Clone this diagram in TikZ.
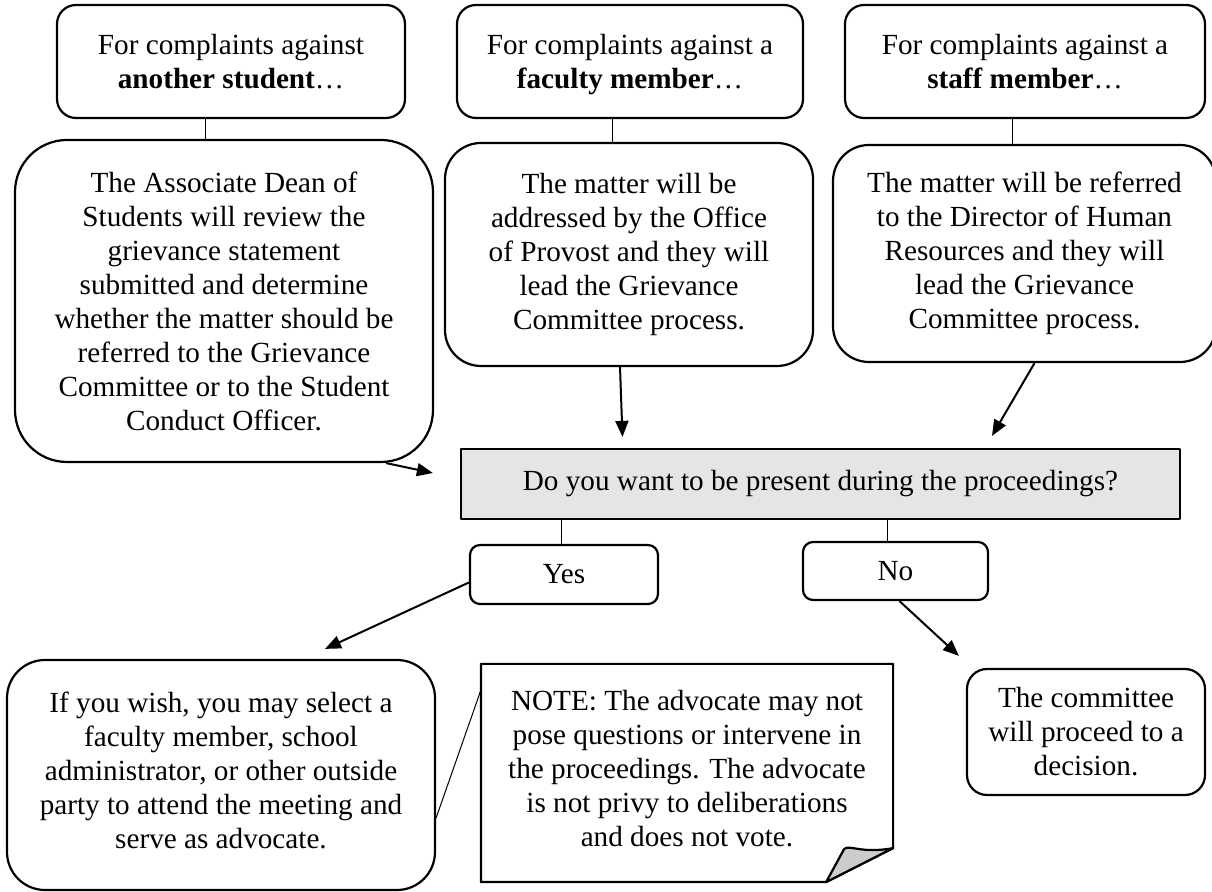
\documentclass[tikz,border=0pt]{standalone}
\usepackage{fontspec}
\setmainfont{Liberation Serif}
\usetikzlibrary{arrows.meta}
\tikzset{
  box/.style={draw, line width=1.1pt, align=center, inner sep=0pt, font=\fontsize{14.6pt}{17pt}\selectfont,
    execute at begin node={\vphantom{A}}},
  link/.style={line width=0.5pt},
  arr/.style={line width=1pt, -{Triangle[length=8pt,width=6.5pt]}}
}
\begin{document}
\begin{tikzpicture}[x=0.5pt, y=-0.5pt, line join=round]
\useasboundingbox (0,0) rectangle (1212,892);
\node[box, rounded corners=9.5pt, minimum width=174pt, minimum height=56.5pt, text depth=0pt] (A1) at (231,61.5) {For complaints against\\\textbf{another student}…};
\node[box, rounded corners=9.5pt, minimum width=173pt, minimum height=56.5pt, text depth=0pt] (F1) at (630,61.5) {For complaints against a\\\textbf{faculty member}…};
\node[box, rounded corners=9.5pt, minimum width=180pt, minimum height=56.5pt, text depth=0pt] (S1) at (1025,61.5) {For complaints against a\\\textbf{staff member}…};
\node[box, rounded corners=26pt, minimum width=209pt, minimum height=161pt] (A2) at (224,301) {The Associate Dean of\\Students will review the\\grievance statement\\submitted and determine\\whether the matter should be\\referred to the Grievance\\Committee or to the Student\\Conduct Officer.};
\node[box, rounded corners=18pt, minimum width=184pt, minimum height=111.5pt] (F2) at (629,254.5) {The matter will be\\addressed by the Office\\of Provost and they will\\lead the Grievance\\Committee process.};
\node[box, rounded corners=18pt, minimum width=191.5pt, minimum height=108.5pt] (S2) at (1024.5,253.5) {The matter will be referred\\to the Director of Human\\Resources and they will\\lead the Grievance\\Committee process.};
\node[box, fill=black!10, minimum width=359.5pt, minimum height=35pt] (Q) at (820.5,484) {Do you want to be present during the proceedings?};
\node[box, rounded corners=5pt, minimum width=94pt, minimum height=29.5pt] (Yes) at (564,574.5) {Yes};
\node[box, rounded corners=5pt, minimum width=92.5pt, minimum height=29pt] (No) at (895.5,571) {No};
\node[box, rounded corners=19pt, minimum width=214pt, minimum height=115pt, text depth=5pt] (Adv) at (221,775) {If you wish, you may select a\\faculty member, school\\administrator, or other outside\\party to attend the meeting and\\serve as advocate.};
\node[box, draw=none, minimum width=205pt, minimum height=108pt, text depth=5pt] (N) at (687,773) {NOTE: The advocate may not\\pose questions or intervene in\\the proceedings. The advocate\\is not privy to deliberations\\and does not vote.};
\node[box, rounded corners=10pt, minimum width=119pt, minimum height=63pt] (Com) at (1086,732) {The committee\\will proceed to a\\decision.};
\draw[line width=1.1pt] (N.north west) -- (N.north east) -- ([yshift=17pt]N.south east) -- ([xshift=-33.5pt]N.south east) -- (N.south west) -- cycle;
\filldraw[fill=black!20, line width=1.1pt] ([xshift=-33.5pt]N.south east) -- ([shift={(-24.5pt,16.5pt)}]N.south east) .. controls ([shift={(-22pt,19pt)}]N.south east) and ([shift={(-16pt,14pt)}]N.south east) .. ([yshift=17pt]N.south east) -- cycle;
\draw[link] ([xshift=-13pt]A1.south) -- ([xshift=-13pt]A1.south |- A2.north);
\draw[link] ([xshift=-9pt]F1.south) -- ([xshift=-9pt]F1.south |- F2.north);
\draw[link] ([xshift=-6.5pt]S1.south) -- ([xshift=-6.5pt]S1.south |- S2.north);
\draw[link] ([xshift=-1.5pt]Yes.north) -- ([xshift=-1.5pt]Yes.north |- Q.south);
\draw[link] ([xshift=-4pt]No.north) -- ([xshift=-4pt]No.north |- Q.south);
\draw[link] ([yshift=41.5pt]N.west) -- ([yshift=-21.5pt]Adv.east);
\coordinate (qL) at ([shift={(-13.5pt,5.5pt)}]Q.west);
\coordinate (qT) at ([shift={(-99pt,5.5pt)}]Q.north);
\coordinate (qR) at ([shift={(85.75pt,6pt)}]Q.north);
\coordinate (advT) at ([shift={(52pt,5pt)}]Adv.north);
\coordinate (comT) at ([shift={(-3.5pt,6pt)}]Com.north west);
\draw[arr] (A2.-45) -- (qL);
\draw[arr] ([xshift=-4.5pt]F2.south) -- (qT);
\draw[arr] ([xshift=5pt]S2.south) -- (qR);
\draw[arr] ([yshift=-4pt]Yes.west) -- (advT);
\draw[arr] ([xshift=2pt]No.south) -- (comT);
\end{tikzpicture}
\end{document}
